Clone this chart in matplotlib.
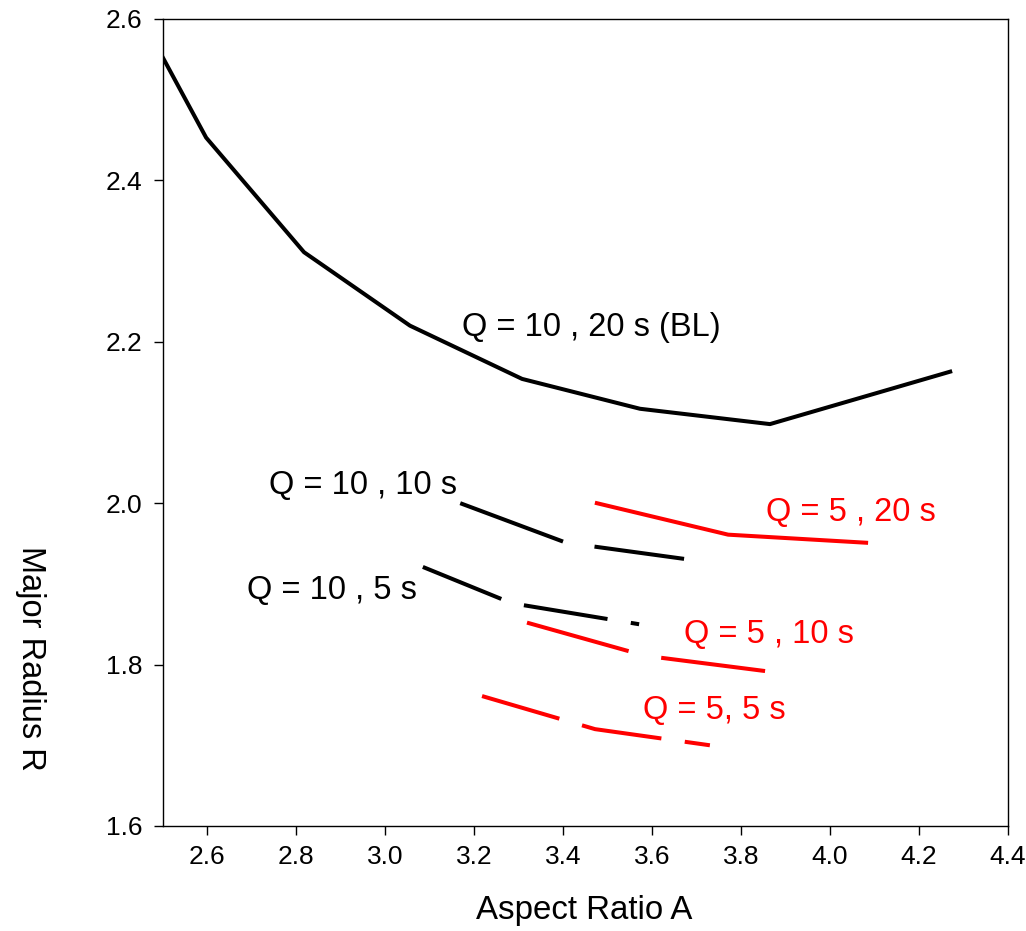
import matplotlib.pyplot as plt

plt.rcParams['font.family'] = ['Liberation Sans', 'DejaVu Sans']
plt.rcParams['lines.scale_dashes'] = False

# Q = 10, 20 s (BL)
a_bl = [2.50, 2.598, 2.818, 3.056, 3.308, 3.573, 3.865, 4.270]
r_bl = [2.553, 2.453, 2.311, 2.220, 2.154, 2.117, 2.098, 2.163]

# Q = 10, 10 s
a_q10_10 = [3.169, 3.407, 3.672]
r_q10_10 = [2.000, 1.951, 1.931]

# Q = 10, 5 s
a_q10_5 = [3.085, 3.285, 3.571]
r_q10_5 = [1.921, 1.876, 1.850]

# Q = 5, 20 s
a_q5_20 = [3.476, 3.771, 4.081]
r_q5_20 = [2.000, 1.961, 1.951]

# Q = 5, 10 s
a_q5_10 = [3.319, 3.584, 3.854]
r_q5_10 = [1.852, 1.811, 1.792]

# Q = 5, 5 s
a_q5_5 = [3.218, 3.472, 3.730]
r_q5_5 = [1.761, 1.720, 1.700]

xticks = [2.6, 2.8, 3.0, 3.2, 3.4, 3.6, 3.8, 4.0, 4.2, 4.4]
yticks = [1.6, 1.8, 2.0, 2.2, 2.4, 2.6]

fig = plt.figure(figsize=(10.26, 9.31), dpi=100)
ax = fig.add_axes([0.1584, 0.1128, 0.8241, 0.8668])

lw = 2.9
ax.plot(a_bl, r_bl, color='black', lw=lw)
ax.plot(a_q10_10, r_q10_10, color='black', lw=lw, linestyle=(0, (79, 23)))
ax.plot(a_q10_5, r_q10_5, color='black', lw=lw, linestyle=(0, (61, 17)))
ax.plot(a_q5_20, r_q5_20, color='red', lw=lw)
ax.plot(a_q5_10, r_q5_10, color='red', lw=lw, linestyle=(0, (76, 24)))
ax.plot(a_q5_5, r_q5_5, color='red', lw=lw, linestyle=(0, (58, 17)))

fs = 23.5
ax.text(3.173, 2.207, 'Q = 10 , 20 s (BL)', fontsize=fs, color='black', va='baseline')
ax.text(2.739, 2.011, 'Q = 10 , 10 s', fontsize=fs, color='black', va='baseline')
ax.text(2.690, 1.881, 'Q = 10 , 5 s', fontsize=fs, color='black', va='baseline')
ax.text(3.856, 1.978, 'Q = 5 , 20 s', fontsize=fs, color='red', va='baseline')
ax.text(3.672, 1.827, 'Q = 5 , 10 s', fontsize=fs, color='red', va='baseline')
ax.text(3.580, 1.733, 'Q = 5, 5 s', fontsize=fs, color='red', va='baseline')

ax.set_xlim(2.5, 4.4)
ax.set_ylim(1.6, 2.6)
ax.set_xticks(xticks)
ax.set_yticks(yticks)
ax.set_xticklabels([f'{v:.1f}' for v in xticks])
ax.set_yticklabels([f'{v:.1f}' for v in yticks])
ax.tick_params(direction='out', length=6.5, width=1.0, labelsize=19)
ax.tick_params(axis='x', pad=7)
ax.tick_params(axis='y', pad=8)
for s in ax.spines.values():
    s.set_linewidth(1.0)

fig.text(584.5 / 1026, 1 - 910 / 931, 'Aspect Ratio A', fontsize=23.8, ha='center', va='center')
fig.text(30 / 1026, 1 - 658 / 931, 'Major Radius R', fontsize=23.5, rotation=-90,
         ha='center', va='center')

fig.savefig('out.png', dpi=100)
